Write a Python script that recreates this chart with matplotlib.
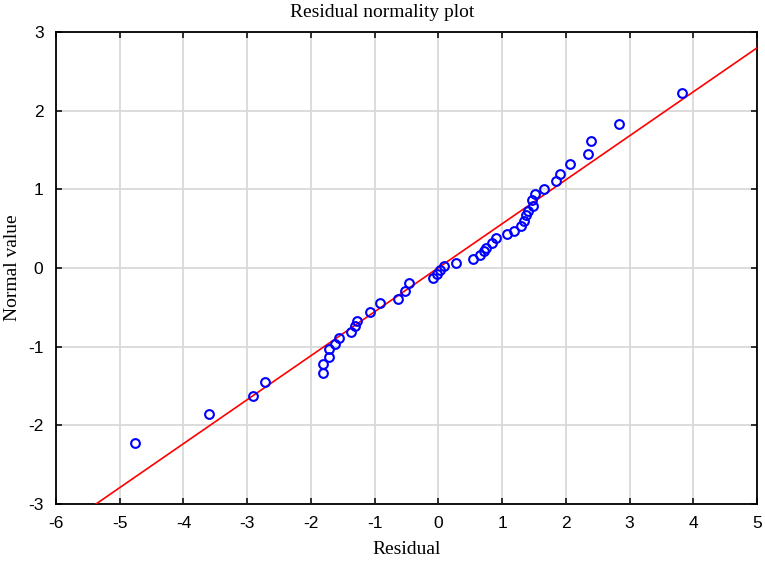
import numpy as np
import matplotlib.pyplot as plt

# residuals and their expected normal values
residual = [-4.76, -3.60, -2.91, -2.72,
            -1.81, -1.81, -1.71, -1.71, -1.62, -1.56, -1.37, -1.31, -1.27,
            -1.07, -0.92, -0.63, -0.53, -0.46,
            -0.08, -0.02, 0.03, 0.09, 0.27,
            0.55, 0.66, 0.71, 0.75, 0.84, 0.91, 1.08, 1.19, 1.30, 1.35,
            1.38, 1.41, 1.48, 1.47, 1.51, 1.65, 1.85, 1.91, 2.06, 2.35,
            2.39, 2.84, 3.82]
normal_value = [-2.22, -1.86, -1.63, -1.45,
                -1.33, -1.22, -1.13, -1.03, -0.96, -0.89, -0.81, -0.74, -0.68,
                -0.56, -0.44, -0.40, -0.29, -0.19,
                -0.13, -0.08, -0.03, 0.02, 0.06,
                0.11, 0.17, 0.22, 0.26, 0.32, 0.38, 0.43, 0.47, 0.53, 0.60,
                0.67, 0.72, 0.79, 0.86, 0.94, 1.01, 1.11, 1.20, 1.32, 1.45,
                1.62, 1.83, 2.22]

# reference line
line_x = [-6, 5]
slope, intercept = 0.559, 0.003

SERIF = 'Liberation Serif'
SANS = 'Liberation Sans'


def main():
    plt.rcParams['axes.unicode_minus'] = False
    fig = plt.figure(figsize=(7.65, 5.61), dpi=100)
    ax = fig.add_axes([56 / 765, 1 - 504 / 561, (757 - 56) / 765, (504 - 32) / 561])

    lx = np.array(line_x, dtype=float)
    ax.plot(lx, slope * lx + intercept, color='red', lw=1.2, zorder=3)
    ax.plot(residual, normal_value, 'o', mfc='none', mec='blue', mew=1.5,
            ms=6.3, zorder=4)

    ax.set_xlim(-6, 5)
    ax.set_ylim(-3, 3)
    ax.set_xticks(range(-6, 6))
    ax.set_yticks(range(-3, 4))
    ax.grid(True, color='#d9d9d9', lw=1.3)
    ax.set_axisbelow(True)
    for s in ax.spines.values():
        s.set_linewidth(1.3)
    ax.tick_params(direction='in', length=4, width=1.1, top=True, right=True,
                   labelsize=12.5, pad=9)
    for lab in ax.get_xticklabels() + ax.get_yticklabels():
        lab.set_family(SANS)

    # title is centred on the figure, not on the axes
    fig.text(0.5, 1 - 17 / 561, 'Residual normality plot', family=SERIF,
             fontsize=14, ha='center', va='baseline')
    ax.set_xlabel('Residual', family=SERIF, fontsize=14)
    ax.set_ylabel('Normal value', family=SERIF, fontsize=14)
    ax.xaxis.set_label_coords(0.5, (504 - 541) / 472)
    ax.yaxis.set_label_coords((21 - 56) / 701, 0.5)

    fig.savefig('out.png', dpi=100)


if __name__ == "__main__":
    main()
